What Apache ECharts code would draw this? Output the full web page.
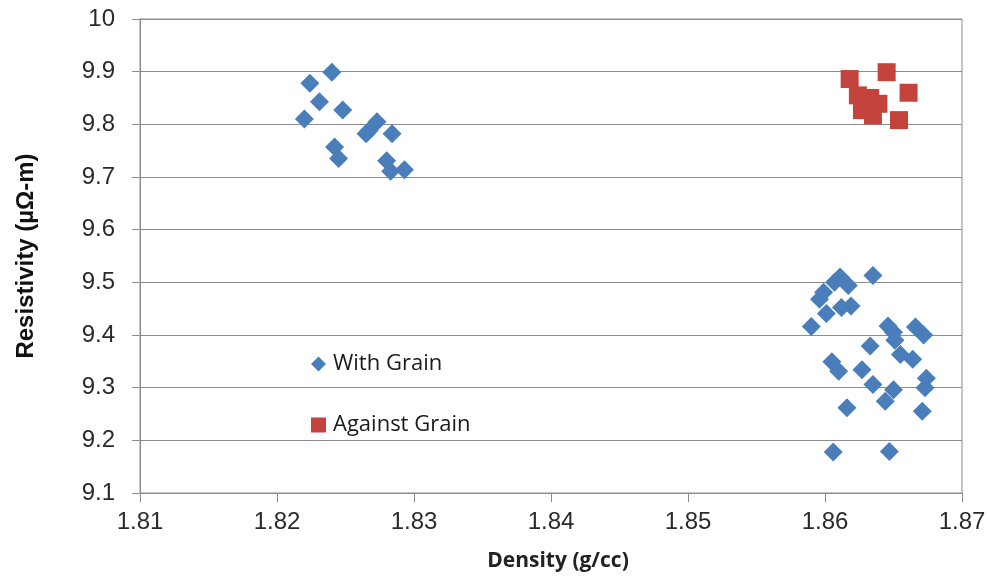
<!DOCTYPE html>
<html>
<head>
<meta charset="utf-8">
<script src="https://cdn.jsdelivr.net/npm/echarts@6/dist/echarts.min.js"></script>
<style>
  html, body { margin: 0; padding: 0; background: #fff; }
  #chart { width: 990px; height: 579px; }
</style>
</head>
<body>
<div id="chart"></div>
<script>
// Resistivity vs. density measurements
const withGrainDensity = [
  1.8240, 1.8224, 1.8231, 1.8248, 1.8220, 1.8273, 1.8267, 1.8265, 1.8284, 1.8242,
  1.8245, 1.8280, 1.8283, 1.8293,
  1.8611, 1.8617, 1.8607, 1.8635, 1.8599, 1.8596, 1.8619, 1.8612, 1.8601, 1.8590,
  1.8646, 1.8666, 1.8672, 1.8650, 1.8651, 1.8633, 1.8655, 1.8664, 1.8605, 1.8610,
  1.8627, 1.8674, 1.8635, 1.8650, 1.8673, 1.8644, 1.8616, 1.8671, 1.8606, 1.8647
];
const withGrainResistivity = [
  9.899, 9.878, 9.843, 9.827, 9.810, 9.805, 9.788, 9.782, 9.782, 9.757,
  9.735, 9.731, 9.711, 9.714,
  9.510, 9.494, 9.500, 9.513, 9.481, 9.468, 9.455, 9.452, 9.441, 9.416,
  9.417, 9.415, 9.400, 9.405, 9.390, 9.379, 9.363, 9.354, 9.349, 9.331,
  9.334, 9.318, 9.306, 9.296, 9.300, 9.274, 9.262, 9.255, 9.178, 9.179
];
const againstGrainDensity = [
  1.8618, 1.8645, 1.8661, 1.8624, 1.8633, 1.8629, 1.8639, 1.8635, 1.8654, 1.8627
];
const againstGrainResistivity = [
  9.886, 9.899, 9.860, 9.855, 9.850, 9.836, 9.839, 9.817, 9.808, 9.827
];
const xTicks = [1.81, 1.82, 1.83, 1.84, 1.85, 1.86, 1.87];
const yTicks = [9.1, 9.2, 9.3, 9.4, 9.5, 9.6, 9.7, 9.8, 9.9, 10];

const pairs = (xs, ys) => xs.map((x, i) => [x, ys[i]]);
const axisGrey = '#8c8c8c';

const chart = echarts.init(document.getElementById('chart'), null, { renderer: 'canvas' });
chart.setOption({
  animation: false,
  backgroundColor: '#ffffff',
  grid: { left: 140, right: 28, top: 19, bottom: 86, show: true, borderColor: axisGrey, borderWidth: 1 },
  legend: {
    orient: 'vertical',
    left: 311,
    top: 353,
    padding: 0,
    itemGap: 39,
    itemWidth: 15,
    itemHeight: 15,
    textStyle: {
      fontFamily: 'Open Sans, Lato, sans-serif',
      fontSize: 22,
      lineHeight: 22,
      color: '#1a1a1a',
      padding: [0, 0, 0, 2]
    },
    data: [
      { name: 'With Grain', icon: 'diamond' },
      { name: 'Against Grain', icon: 'rect' }
    ]
  },
  xAxis: {
    type: 'value',
    min: xTicks[0],
    max: xTicks[xTicks.length - 1],
    interval: 0.01,
    name: 'Density (g/cc)',
    nameLocation: 'middle',
    nameGap: 58,
    nameTextStyle: {
      fontFamily: 'Open Sans, Lato, sans-serif',
      fontWeight: 'bold',
      fontSize: 21,
      color: '#222',
      padding: [0, 0, 0, 14]
    },
    axisLine: { lineStyle: { color: axisGrey } },
    axisTick: { show: true, length: 9, lineStyle: { color: axisGrey } },
    splitLine: { show: false },
    axisLabel: {
      margin: 17,
      fontFamily: 'Liberation Sans, Arial, sans-serif',
      fontSize: 24,
      color: '#2a2a2a',
      formatter: v => v.toFixed(2)
    }
  },
  yAxis: {
    type: 'value',
    min: yTicks[0],
    max: yTicks[yTicks.length - 1],
    interval: 0.1,
    name: 'Resistivity (µΩ-m)',
    nameLocation: 'middle',
    nameGap: 102,
    nameTextStyle: { fontFamily: 'Liberation Sans, Arial, sans-serif', fontWeight: 'bold', fontSize: 24, color: '#111' },
    axisLine: { show: true, lineStyle: { color: axisGrey } },
    axisTick: { show: true, length: 8, lineStyle: { color: axisGrey } },
    splitLine: { show: true, lineStyle: { color: axisGrey, width: 1 } },
    axisLabel: {
      margin: 25,
      fontFamily: 'Liberation Sans, Arial, sans-serif',
      fontSize: 24,
      color: '#2a2a2a',
      formatter: v => (Math.abs(v - 10) < 1e-9 ? '10' : v.toFixed(1))
    }
  },
  series: [
    {
      name: 'With Grain',
      type: 'scatter',
      symbol: 'diamond',
      symbolSize: 19,
      itemStyle: { color: '#4a7ebb', opacity: 1 },
      data: pairs(withGrainDensity, withGrainResistivity)
    },
    {
      name: 'Against Grain',
      type: 'scatter',
      symbol: 'rect',
      symbolSize: 18,
      itemStyle: { color: '#c4433d', opacity: 1 },
      data: pairs(againstGrainDensity, againstGrainResistivity)
    }
  ]
});
</script>
</body>
</html>
